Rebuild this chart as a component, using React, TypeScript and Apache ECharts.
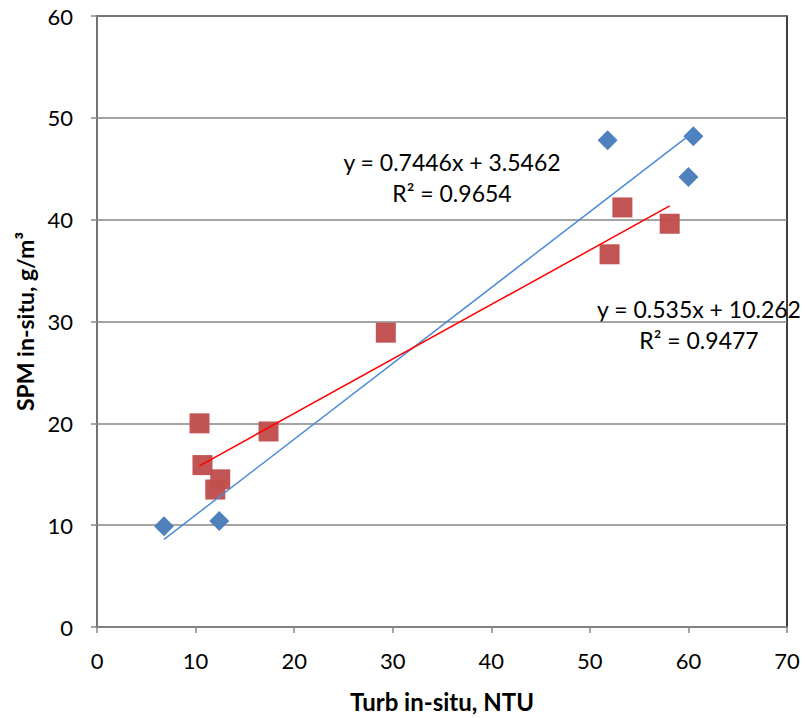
import React, { useEffect, useRef } from "react";
import * as echarts from "echarts";

const blueX = [6.8, 12.4, 51.8, 60.5, 60.0];
const blueY = [9.9, 10.4, 47.8, 48.2, 44.2];
const redX = [10.4, 10.7, 12.0, 12.5, 17.4, 29.3, 52.0, 53.3, 58.1];
const redY = [20.0, 15.9, 13.5, 14.5, 19.2, 28.9, 36.6, 41.2, 39.6];
const blueFit = { slope: 0.7446, intercept: 3.5462, r2: 0.9654 };
const redFit = { slope: 0.535, intercept: 10.262, r2: 0.9477 };
const xTicks = [0, 10, 20, 30, 40, 50, 60, 70];
const yTicks = [0, 10, 20, 30, 40, 50, 60];

const FONT = "Lato, 'Open Sans', sans-serif";

function pairs(xs: number[], ys: number[]) {
  return xs.map((x, i) => [x, ys[i]]);
}
function fitLine(xs: number[], fit: { slope: number; intercept: number }) {
  const lo = Math.min(...xs);
  const hi = Math.max(...xs);
  return [lo, hi].map((x) => [x, fit.slope * x + fit.intercept]);
}

export default function App() {
  const ref = useRef<HTMLDivElement>(null);
  useEffect(() => {
    if (!ref.current) return;
    const chart = echarts.init(ref.current, undefined, { renderer: "svg" });
    const eqFont = `23px ${FONT}`;
    chart.setOption({
      animation: false,
      backgroundColor: "#fff",
      grid: {
        left: 97,
        right: 19,
        top: 16,
        bottom: 90,
        show: true,
        borderColor: "#000",
        borderWidth: 1.5,
      },
      xAxis: {
        type: "value",
        min: xTicks[0],
        max: xTicks[xTicks.length - 1],
        interval: 10,
        name: "Turb in-situ, NTU",
        nameLocation: "middle",
        nameGap: 62,
        nameTextStyle: { fontFamily: FONT, fontSize: 24, fontWeight: "bold", color: "#000" },
        axisLine: { show: true, lineStyle: { color: "#868686", width: 1.5 } },
        axisTick: { show: true, length: 6, lineStyle: { color: "#868686", width: 1.5 } },
        axisLabel: { fontFamily: FONT, fontSize: 22, color: "#000", margin: 22 },
        splitLine: { show: false },
      },
      yAxis: {
        type: "value",
        min: yTicks[0],
        max: yTicks[yTicks.length - 1],
        interval: 10,
        name: "SPM in-situ, g/m³",
        nameLocation: "middle",
        nameGap: 60,
        nameTextStyle: { fontFamily: FONT, fontSize: 23, fontWeight: "bold", color: "#000" },
        axisLine: { show: true, lineStyle: { color: "#868686", width: 1.5 } },
        axisTick: { show: true, length: 6, lineStyle: { color: "#868686", width: 1.5 } },
        axisLabel: { fontFamily: FONT, fontSize: 22, color: "#000", margin: 24 },
        splitLine: { show: true, lineStyle: { color: "#868686", width: 1.5 } },
      },
      series: [
        {
          type: "line",
          data: fitLine(blueX, blueFit),
          showSymbol: false,
          symbol: "none",
          lineStyle: { color: "#4A8BD6", width: 1.5 },
          z: 3,
        },
        {
          type: "line",
          data: fitLine(redX, redFit),
          showSymbol: false,
          symbol: "none",
          lineStyle: { color: "#FF0000", width: 1.5 },
          z: 3,
        },
        {
          type: "scatter",
          data: pairs(blueX, blueY),
          symbol: "diamond",
          symbolSize: [20, 20],
          itemStyle: { color: "#4F81BD", opacity: 1 },
          z: 2,
        },
        {
          type: "scatter",
          data: pairs(redX, redY),
          symbol: "rect",
          symbolSize: 20,
          itemStyle: { color: "#C0504D", opacity: 0.97 },
          z: 2,
        },
      ],
      graphic: [
        {
          type: "text",
          x: 452,
          y: 162,
          style: {
            text: `y = ${blueFit.slope}x + ${blueFit.intercept}`,
            font: eqFont,
            fill: "#000",
            textAlign: "center",
            textVerticalAlign: "middle",
          },
        },
        {
          type: "text",
          x: 452,
          y: 193,
          style: {
            text: `R² = ${blueFit.r2}`,
            font: eqFont,
            fill: "#000",
            textAlign: "center",
            textVerticalAlign: "middle",
          },
        },
        {
          type: "text",
          x: 699,
          y: 309,
          style: {
            text: `y = ${redFit.slope}x + ${redFit.intercept}`,
            font: eqFont,
            fill: "#000",
            textAlign: "center",
            textVerticalAlign: "middle",
          },
        },
        {
          type: "text",
          x: 699,
          y: 340,
          style: {
            text: `R² = ${redFit.r2}`,
            font: eqFont,
            fill: "#000",
            textAlign: "center",
            textVerticalAlign: "middle",
          },
        },
      ],
    });
    return () => chart.dispose();
  }, []);
  return <div ref={ref} style={{ width: 806, height: 718, position: "absolute", left: 0, top: 0 }} />;
}
